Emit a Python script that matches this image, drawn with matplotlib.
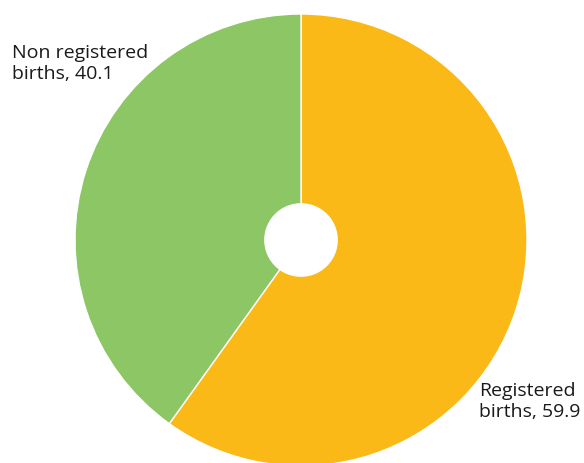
import matplotlib
matplotlib.use("Agg")
import matplotlib.pyplot as plt

# birth registration shares (%)
labels = ["Registered\nbirths, 59.9", "Non registered\nbirths, 40.1"]
values = [59.9, 40.1]
colors = ["#FBB917", "#8CC665"]

plt.rcParams['font.family'] = ['Open Sans', 'DejaVu Sans']

fig = plt.figure(figsize=(5.84, 4.63), dpi=100)
# axes box sized so the pie sits where it does in the original (slightly cut at the bottom)
ax = fig.add_axes([75 / 584, -3 / 463, 452 / 584, 452 / 463])

ax.pie(values, colors=colors, startangle=90, counterclock=False, radius=1,
       wedgeprops=dict(width=0.84, edgecolor="white", linewidth=1))
ax.set_xlim(-1, 1)
ax.set_ylim(-1, 1)
ax.set_aspect("equal")
ax.axis("off")

# labels placed like the original
fig.text(12 / 584, 1 - 44 / 463, labels[1], ha="left", va="top", fontsize=14,
         color="#1a1a1a", linespacing=1.2)
fig.text(479 / 584, 1 - 382 / 463, labels[0], ha="left", va="top", fontsize=14,
         color="#1a1a1a", linespacing=1.2)

fig.savefig("out.png", dpi=100)
